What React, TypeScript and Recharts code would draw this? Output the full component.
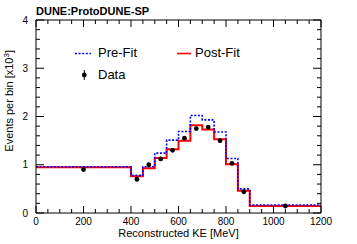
import { ComposedChart, Line, Scatter, ErrorBar, XAxis, YAxis, Legend, Label } from 'recharts'

// bin edges [MeV]; the last bin runs 900-1200
const binEdges = [0, 400, 450, 500, 550, 600, 650, 700, 750, 800, 850, 900, 1200]
// events per bin [x10^3], one value per bin
const preFit = [0.96, 0.78, 0.96, 1.24, 1.51, 1.69, 2.02, 1.93, 1.68, 1.13, 0.5, 0.165]
const postFit = [0.95, 0.76, 0.93, 1.14, 1.32, 1.5, 1.82, 1.73, 1.53, 1.01, 0.46, 0.145]

const dataX = [200, 425, 475, 525, 575, 625, 675, 725, 775, 825, 875, 1050]
const dataY = [0.9, 0.7, 1.0, 1.12, 1.3, 1.55, 1.75, 1.78, 1.5, 1.03, 0.44, 0.145]
const dataErr = [0.02, 0.03, 0.03, 0.03, 0.03, 0.04, 0.04, 0.04, 0.04, 0.03, 0.02, 0.01]

const xMajor = [0, 200, 400, 600, 800, 1000, 1200]
const yMajor = [0, 1, 2, 3, 4]
const xTicks = Array.from({ length: 25 }, (_, i) => i * 50)
const yTicks = Array.from({ length: 21 }, (_, i) => Math.round(i * 2) / 10)

const FONT = '"Liberation Sans", Arial, Helvetica, sans-serif'

// histogram as step points: one point per left edge, plus the closing edge
const toSteps = (vals: number[]) =>
  binEdges.map((x, i) => ({ x, v: vals[Math.min(i, vals.length - 1)] }))

const preSteps = toSteps(preFit)
const postSteps = toSteps(postFit)
const points = dataX.map((x, i) => ({ x, y: dataY[i], err: dataErr[i] }))

const isMajorX = (v: number) => xMajor.includes(v)
const isMajorY = (v: number) => yMajor.includes(v)

const BottomTick = (props: any) => {
  const { x, y, payload } = props
  const major = isMajorX(payload.value)
  return (
    <g>
      <line x1={x} y1={y} x2={x} y2={y - (major ? 7 : 4)} stroke="#000" />
      {major && (
        <text x={x} y={y + 12} textAnchor="middle" fontSize={10} fontFamily={FONT} fill="#000">
          {payload.value}
        </text>
      )}
    </g>
  )
}

const TopTick = (props: any) => {
  const { x, y, payload } = props
  const major = isMajorX(payload.value)
  return <line x1={x} y1={y} x2={x} y2={y + (major ? 7 : 4)} stroke="#000" />
}

const LeftTick = (props: any) => {
  const { x, y, payload } = props
  const major = isMajorY(payload.value)
  return (
    <g>
      <line x1={x} y1={y} x2={x + (major ? 8 : 4)} y2={y} stroke="#000" />
      {major && (
        <text x={x - 8} y={y + 3.5} textAnchor="end" fontSize={10} fontFamily={FONT} fill="#000">
          {payload.value}
        </text>
      )}
    </g>
  )
}

const RightTick = (props: any) => {
  const { x, y, payload } = props
  const major = isMajorY(payload.value)
  return <line x1={x} y1={y} x2={x - (major ? 8 : 4)} y2={y} stroke="#000" />
}

const Dot = (props: any) => <circle cx={props.cx} cy={props.cy} r={2.4} fill="#000" />

const HistLegend = () => (
  <div style={{ position: 'relative', width: 170, height: 44, fontFamily: FONT, fontSize: 13, color: '#000' }}>
    <svg width={170} height={44} style={{ position: 'absolute', left: 0, top: 0 }}>
      <line x1={5} y1={11.5} x2={21} y2={11.5} stroke="#0000ff" strokeWidth={1.6} strokeDasharray="2 1.6" />
      <line x1={107} y1={11.5} x2={121} y2={11.5} stroke="#ff0000" strokeWidth={1.6} />
      <line x1={14.3} y1={28} x2={14.3} y2={38} stroke="#000" strokeWidth={1} />
      <circle cx={14.3} cy={33} r={2.4} fill="#000" />
    </svg>
    <div style={{ position: 'absolute', left: 28, top: 3, lineHeight: '16px' }}>Pre-Fit</div>
    <div style={{ position: 'absolute', left: 125, top: 3, lineHeight: '16px' }}>Post-Fit</div>
    <div style={{ position: 'absolute', left: 28, top: 25, lineHeight: '16px' }}>Data</div>
  </div>
)

const YTitle = (props: any) => {
  const { viewBox } = props
  const x = viewBox.x - 22
  return (
    <text
      x={x}
      y={50}
      transform={`rotate(-90 ${x} 50)`}
      textAnchor="end"
      fontSize={11}
      fontFamily={FONT}
      fill="#000"
    >
      Events per bin [x10
      <tspan fontSize={8} dy={-4}>3</tspan>
      <tspan dy={4}>]</tspan>
    </text>
  )
}

export default function App() {
  return (
    <div style={{ position: 'absolute', left: 0, top: 0, width: 357, height: 244, background: '#fff' }}>
      <div
        style={{
          position: 'absolute',
          left: 36,
          top: 4,
          fontFamily: FONT,
          fontSize: 11,
          fontWeight: 'bold',
          lineHeight: '14px',
          zIndex: 2,
        }}
      >
        DUNE:ProtoDUNE-SP
      </div>
      <ComposedChart
        width={357}
        height={244}
        margin={{ top: 19, right: 35, bottom: 30, left: 35 }}
        style={{ fontFamily: FONT }}
      >
        <XAxis
          xAxisId="b"
          type="number"
          dataKey="x"
          domain={[0, 1200]}
          ticks={xTicks}
          interval={0}
          height={1}
          tickSize={0}
          tickMargin={0}
          tickLine={false}
          tick={<BottomTick />}
          axisLine={{ stroke: '#000' }}
          allowDataOverflow
        >
          <Label
            value="Reconstructed KE [MeV]"
            position="bottom"
            offset={15}
            style={{ fontSize: 11, fontFamily: FONT, fill: '#000' }}
          />
        </XAxis>
        <XAxis
          xAxisId="t"
          orientation="top"
          type="number"
          dataKey="x"
          domain={[0, 1200]}
          ticks={xTicks}
          interval={0}
          height={1}
          tickSize={0}
          tickMargin={0}
          tickLine={false}
          tick={<TopTick />}
          axisLine={{ stroke: '#000' }}
          allowDataOverflow
        />
        <YAxis
          yAxisId="l"
          type="number"
          domain={[0, 4]}
          ticks={yTicks}
          interval={0}
          width={1}
          tickSize={0}
          tickMargin={0}
          tickLine={false}
          tick={<LeftTick />}
          axisLine={{ stroke: '#000' }}
          allowDataOverflow
        >
          <Label content={<YTitle />} />
        </YAxis>
        <YAxis
          yAxisId="r"
          orientation="right"
          type="number"
          domain={[0, 4]}
          ticks={yTicks}
          interval={0}
          width={1}
          tickSize={0}
          tickMargin={0}
          tickLine={false}
          tick={<RightTick />}
          axisLine={{ stroke: '#000' }}
          allowDataOverflow
        />
        <Legend
          layout="horizontal"
          verticalAlign="middle"
          align="center"
          content={<HistLegend />}
          wrapperStyle={{ left: 70, top: 42, width: 170, height: 44 }}
        />
        <Line
          xAxisId="t"
          yAxisId="r"
          data={postSteps}
          dataKey="v"
          stroke="none"
          dot={false}
          legendType="none"
          isAnimationActive={false}
        />
        <Line
          xAxisId="b"
          yAxisId="l"
          data={postSteps}
          dataKey="v"
          type="stepAfter"
          stroke="#ff0000"
          strokeWidth={2}
          dot={false}
          isAnimationActive={false}
        />
        <Line
          xAxisId="b"
          yAxisId="l"
          data={preSteps}
          dataKey="v"
          type="stepAfter"
          stroke="#0000ff"
          strokeWidth={1.6}
          strokeDasharray="2 1.6"
          dot={false}
          isAnimationActive={false}
        />
        <Scatter
          xAxisId="b"
          yAxisId="l"
          data={points}
          dataKey="y"
          shape={<Dot />}
          isAnimationActive={false}
        >
          <ErrorBar dataKey="err" direction="y" width={0} stroke="#000" strokeWidth={1} />
        </Scatter>
      </ComposedChart>
    </div>
  )
}
